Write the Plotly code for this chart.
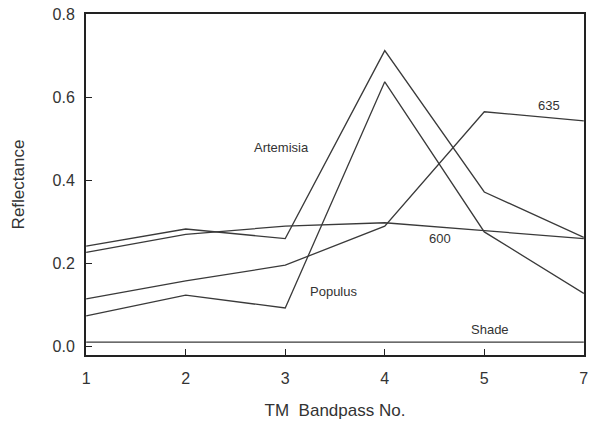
import plotly.graph_objects as go

bands = ["1", "2", "3", "4", "5", "7"]
artemisia = [0.242, 0.283, 0.260, 0.712, 0.372, 0.263]
series_600 = [0.227, 0.270, 0.290, 0.298, 0.279, 0.260]
series_635 = [0.115, 0.158, 0.196, 0.290, 0.565, 0.543]
populus = [0.074, 0.124, 0.093, 0.637, 0.276, 0.128]
shade = [0.011, 0.011, 0.011, 0.011, 0.011, 0.011]

y_ticks = [0.0, 0.2, 0.4, 0.6, 0.8]
y_ticktext = ["0.0", "0.2", "0.4", "0.6", "0.8"]

labels = [
    ("Artemisia", 1.967, 0.480),
    ("635", 4.646, 0.581),
    ("600", 3.56, 0.260),
    ("Populus", 2.48, 0.132),
    ("Shade", 4.06, 0.042),
]

line_color = "#3a3a3a"
fig = go.Figure()
for name, vals in [("Artemisia", artemisia), ("600", series_600), ("635", series_635),
                   ("Populus", populus), ("Shade", shade)]:
    fig.add_trace(go.Scatter(x=bands, y=vals, mode="lines", name=name,
                             line=dict(color=line_color, width=1.3), showlegend=False))

for text, lx, ly in labels:
    fig.add_annotation(x=lx, y=ly, xref="x", yref="y", text=text, showarrow=False,
                       font=dict(family="Liberation Sans, Arial, sans-serif", size=13, color="#333"))

fig.update_layout(
    width=590, height=426,
    margin=dict(l=86, r=6, t=14, b=71),
    paper_bgcolor="white", plot_bgcolor="white",
    font=dict(family="Liberation Sans, Arial, sans-serif", color="#333"),
    xaxis=dict(
        type="category", range=[-0.002, 5.002], showgrid=False, zeroline=False,
        automargin=False,
        showline=True, linecolor="#222", linewidth=2, mirror=True,
        ticks="inside", ticklen=6, tickcolor="#222", tickwidth=1.2,
        tickfont=dict(size=16, color="#333"), ticklabelstandoff=8,
        title=dict(text="TM  Bandpass No.", font=dict(size=17, color="#333"), standoff=18),
    ),
    yaxis=dict(
        range=[-0.02, 0.8], showgrid=False, zeroline=False, automargin=False,
        tickvals=y_ticks, ticktext=y_ticktext,
        showline=True, linecolor="#222", linewidth=2, mirror=True,
        ticks="inside", ticklen=6, tickcolor="#222", tickwidth=1.2,
        tickfont=dict(size=16, color="#333"), ticklabelstandoff=6,
        title=dict(text="Reflectance", font=dict(size=17, color="#333"), standoff=24),
    ),
)

fig.write_html("out.html", config={"displayModeBar": False},
               post_script="document.body.style.margin='0';")
